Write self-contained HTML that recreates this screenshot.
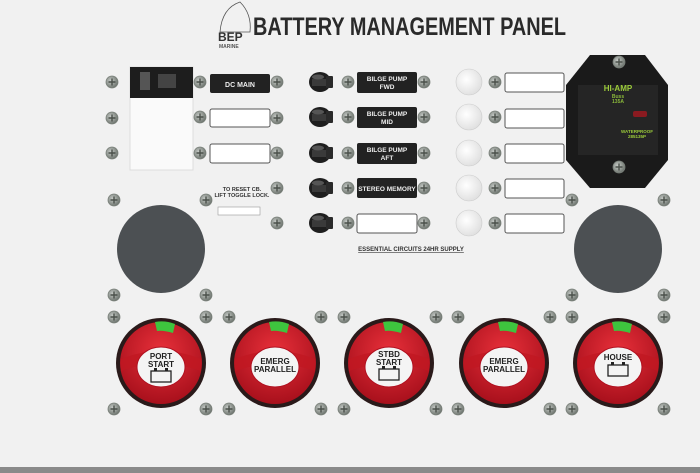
<!DOCTYPE html>
<html><head><meta charset="utf-8"><style>
html,body{margin:0;padding:0;background:#f2f2f2;}
svg{display:block}
text{font-family:"Liberation Sans",sans-serif;font-weight:bold}
</style></head><body>
<svg width="700" height="473" viewBox="0 0 700 473" xmlns="http://www.w3.org/2000/svg">
<defs>
<radialGradient id="scr" cx="0.4" cy="0.4" r="0.6"><stop offset="0" stop-color="#c8ccc8"/><stop offset="1" stop-color="#6f7670"/></radialGradient>
<radialGradient id="red" cx="0.5" cy="0.35" r="0.65"><stop offset="0" stop-color="#e8303a"/><stop offset="1" stop-color="#a8101c"/></radialGradient>
<radialGradient id="wh" cx="0.4" cy="0.4" r="0.7"><stop offset="0" stop-color="#ffffff"/><stop offset="1" stop-color="#dcdcdc"/></radialGradient>
<g id="s"><circle r="6" fill="url(#scr)" stroke="#7a807a" stroke-width="0.8"/><path d="M-3.5 0H3.5M0 -3.5V3.5" stroke="#4a504a" stroke-width="1.4"/></g>
<g id="t"><ellipse cx="0" cy="0" rx="11" ry="10" fill="#1e1e1e"/><rect x="-8" y="-3" width="14" height="7" fill="#3a3a3a"/><rect x="6" y="-6" width="7" height="12" rx="1" fill="#2a2a2a"/><ellipse cx="-2" cy="-5" rx="6" ry="2.5" fill="#555"/></g>
<g id="k"><circle r="45" fill="#2a1a1a"/><circle r="41" fill="url(#red)"/><path d="M-40 -4 Q0 -20 40 -4 L40 8 Q0 -6 -40 8Z" fill="#c01822" opacity="0.8"/><path d="M-6 -41 Q4 -43 14 -39 L12 -30 Q2 -33 -4 -32Z" fill="#3ec43e"/><ellipse cx="0" cy="4" rx="24" ry="20" fill="#f4f4f4" stroke="#b01020" stroke-width="1"/></g>
<g id="bat"><rect x="-10" y="-5" width="20" height="11" fill="none" stroke="#222" stroke-width="1.3"/><rect x="-7" y="-8" width="3" height="3" fill="#222"/><rect x="4" y="-8" width="3" height="3" fill="#222"/></g>
</defs>
<rect width="700" height="473" fill="#f1f1f1"/>
<rect x="0" y="467" width="700" height="6" fill="#8a8a8a"/>
<!-- logo -->
<path d="M220 32 Q222 8 240 2 Q252 14 250 32Z" fill="none" stroke="#555" stroke-width="0.8"/>
<text x="218" y="41" font-size="12" fill="#333">BEP</text>
<text x="219" y="48" font-size="5" fill="#555" font-weight="normal">MARINE</text>
<text x="253" y="35" font-size="25" fill="#2a2a2a" textLength="313" lengthAdjust="spacingAndGlyphs">BATTERY MANAGEMENT PANEL</text>
<!-- left breaker -->
<rect x="130" y="67" width="63" height="103" fill="#fafafa" stroke="#ddd"/>
<rect x="130" y="67" width="63" height="31" fill="#1d1d1d"/>
<rect x="140" y="72" width="10" height="18" fill="#555"/>
<rect x="158" y="74" width="18" height="14" fill="#444"/>
<use href="#s" x="112" y="82"/><use href="#s" x="112" y="118"/><use href="#s" x="112" y="153"/>
<use href="#s" x="200" y="82"/><use href="#s" x="200" y="117"/><use href="#s" x="200" y="153"/>
<rect x="210" y="74" width="60" height="19" rx="2" fill="#222"/>
<text x="240" y="87" font-size="7" fill="#eee" text-anchor="middle">DC MAIN</text>
<rect x="210" y="109" width="60" height="18" rx="2" fill="#fff" stroke="#555"/>
<rect x="210" y="144" width="60" height="19" rx="2" fill="#fff" stroke="#555"/>
<use href="#s" x="277" y="82"/><use href="#s" x="277" y="118"/><use href="#s" x="277" y="153"/>
<use href="#s" x="277" y="188"/><use href="#s" x="277" y="223"/>
<text x="242" y="191" font-size="5.5" fill="#333" text-anchor="middle">TO RESET CB.</text>
<text x="242" y="197" font-size="5.5" fill="#333" text-anchor="middle">LIFT TOGGLE LOCK.</text>
<rect x="218" y="207" width="42" height="8" fill="#fff" stroke="#999" stroke-width="0.6"/>
<!-- toggles -->
<g fill="#222">
<use href="#t" x="320" y="82"/><use href="#t" x="320" y="117"/><use href="#t" x="320" y="153"/><use href="#t" x="320" y="188"/><use href="#t" x="320" y="223"/>
</g>
<use href="#s" x="348" y="82"/><use href="#s" x="348" y="117"/><use href="#s" x="348" y="153"/><use href="#s" x="348" y="188"/><use href="#s" x="348" y="223"/>
<rect x="357" y="72" width="60" height="21" rx="2" fill="#222"/>
<text x="387" y="81" font-size="6.5" fill="#eee" text-anchor="middle">BILGE PUMP</text><text x="387" y="89" font-size="6.5" fill="#eee" text-anchor="middle">FWD</text>
<rect x="357" y="107" width="60" height="21" rx="2" fill="#222"/>
<text x="387" y="116" font-size="6.5" fill="#eee" text-anchor="middle">BILGE PUMP</text><text x="387" y="124" font-size="6.5" fill="#eee" text-anchor="middle">MID</text>
<rect x="357" y="143" width="60" height="21" rx="2" fill="#222"/>
<text x="387" y="152" font-size="6.5" fill="#eee" text-anchor="middle">BILGE PUMP</text><text x="387" y="160" font-size="6.5" fill="#eee" text-anchor="middle">AFT</text>
<rect x="357" y="178" width="60" height="20" rx="2" fill="#222"/>
<text x="387" y="191" font-size="6.5" fill="#eee" text-anchor="middle">STEREO MEMORY</text>
<rect x="357" y="214" width="60" height="19" rx="2" fill="#fff" stroke="#555"/>
<use href="#s" x="424" y="82"/><use href="#s" x="424" y="117"/><use href="#s" x="424" y="153"/><use href="#s" x="424" y="188"/><use href="#s" x="424" y="223"/>
<text x="411" y="251" font-size="6" fill="#333" text-anchor="middle" text-decoration="underline">ESSENTIAL CIRCUITS 24HR SUPPLY</text>
<!-- white lamps -->
<g fill="url(#wh)" stroke="#ccc" stroke-width="0.6">
<circle cx="469" cy="82" r="13"/><circle cx="469" cy="117" r="13"/><circle cx="469" cy="153" r="13"/><circle cx="469" cy="188" r="13"/><circle cx="469" cy="223" r="13"/>
</g>
<use href="#s" x="495" y="82"/><use href="#s" x="495" y="117"/><use href="#s" x="495" y="153"/><use href="#s" x="495" y="188"/><use href="#s" x="495" y="223"/>
<g fill="#fff" stroke="#555"><rect x="505" y="73" width="59" height="19" rx="2"/><rect x="505" y="109" width="59" height="19" rx="2"/><rect x="505" y="144" width="59" height="19" rx="2"/><rect x="505" y="179" width="59" height="19" rx="2"/><rect x="505" y="214" width="59" height="19" rx="2"/></g>
<!-- right breaker -->
<path d="M590 55 L645 55 L668 85 L668 160 L645 188 L590 188 L566 160 L566 85Z" fill="#1a1a1a"/>
<rect x="578" y="85" width="80" height="70" fill="#252525"/>
<use href="#s" x="619" y="62"/><use href="#s" x="619" y="167"/>
<text x="618" y="91" font-size="8" fill="#9ccc3a" text-anchor="middle">HI-AMP</text>
<text x="618" y="98" font-size="5" fill="#8ab83a" text-anchor="middle" font-weight="normal">Buss</text>
<text x="618" y="103" font-size="5" fill="#8ab83a" text-anchor="middle" font-weight="normal">135A</text>
<rect x="633" y="111" width="14" height="6" rx="2" fill="#8a1a20"/>
<text x="637" y="133" font-size="4.5" fill="#9ccc3a" text-anchor="middle" font-weight="normal">WATERPROOF</text>
<text x="637" y="138" font-size="4.5" fill="#9ccc3a" text-anchor="middle" font-weight="normal">285135P</text>
<!-- dark round covers -->
<circle cx="161" cy="249" r="44" fill="#4c5053"/>
<circle cx="618" cy="249" r="44" fill="#4c5053"/>
<!-- screws around -->
<g>
<use href="#s" x="114" y="200"/><use href="#s" x="206" y="200"/><use href="#s" x="572" y="200"/><use href="#s" x="664" y="200"/>
<use href="#s" x="114" y="295"/><use href="#s" x="206" y="295"/><use href="#s" x="572" y="295"/><use href="#s" x="664" y="295"/>
<use href="#s" x="114" y="317"/><use href="#s" x="206" y="317"/><use href="#s" x="229" y="317"/><use href="#s" x="321" y="317"/><use href="#s" x="344" y="317"/><use href="#s" x="436" y="317"/><use href="#s" x="458" y="317"/><use href="#s" x="550" y="317"/><use href="#s" x="572" y="317"/><use href="#s" x="664" y="317"/>
<use href="#s" x="114" y="409"/><use href="#s" x="206" y="409"/><use href="#s" x="229" y="409"/><use href="#s" x="321" y="409"/><use href="#s" x="344" y="409"/><use href="#s" x="436" y="409"/><use href="#s" x="458" y="409"/><use href="#s" x="550" y="409"/><use href="#s" x="572" y="409"/><use href="#s" x="664" y="409"/>
</g>
<!-- knobs -->
<use href="#k" x="161" y="363"/><use href="#k" x="275" y="363"/><use href="#k" x="389" y="363"/><use href="#k" x="504" y="363"/><use href="#k" x="618" y="363"/>
<g font-size="8" fill="#222" text-anchor="middle">
<text x="161" y="359">PORT</text><text x="161" y="367">START</text>
<text x="275" y="364">EMERG</text><text x="275" y="372">PARALLEL</text>
<text x="389" y="357">STBD</text><text x="389" y="365">START</text>
<text x="504" y="364">EMERG</text><text x="504" y="372">PARALLEL</text>
<text x="618" y="360">HOUSE</text>
</g>
<use href="#bat" x="161" y="376"/><use href="#bat" x="389" y="374"/><use href="#bat" x="618" y="370"/>
</svg>
</body></html>
